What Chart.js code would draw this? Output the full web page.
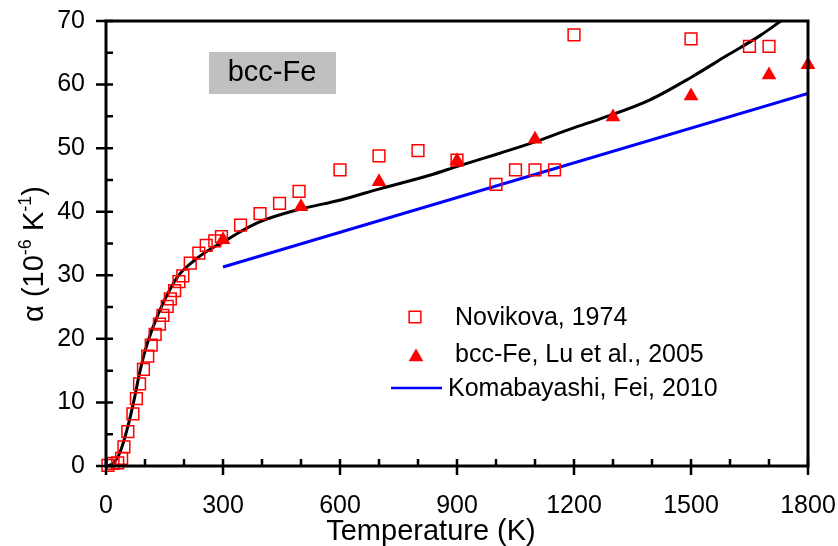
<!DOCTYPE html>
<html>
<head>
<meta charset="utf-8">
<script src="https://cdn.jsdelivr.net/npm/chart.js@4.4.1/dist/chart.umd.min.js"></script>
<style>
html, body { margin: 0; padding: 0; background: #fff; }
</style>
</head>
<body>
<canvas id="chart1" width="838" height="546"></canvas>
<script>
// Novikova, 1974 (open squares)
var novT = [5, 18, 30, 40, 46, 56, 69, 78, 86, 96, 107, 116, 126, 137, 146, 157, 165, 176, 187, 197, 216, 238, 257, 279, 296,
            345, 395, 445, 495, 600, 700, 800, 900, 1000, 1050, 1100, 1150, 1200, 1500, 1650, 1700];
var novA = [0.1, 0.4, 0.5, 1.2, 3.0, 5.4, 8.2, 10.6, 12.9, 15.2, 17.3, 19.0, 20.7, 22.3, 23.7, 25.1, 26.3, 27.6, 29.0, 29.9, 31.9, 33.5, 34.7, 35.4, 36.1,
            37.9, 39.7, 41.3, 43.2, 46.6, 48.8, 49.6, 48.1, 44.3, 46.6, 46.6, 46.6, 67.8, 67.2, 66.0, 66.0];

// bcc-Fe, Lu et al., 2005 (filled triangles)
var luT = [300, 500, 700, 900, 1100, 1300, 1500, 1700, 1800];
var luA = [35.6, 40.8, 44.7, 48.0, 51.4, 54.9, 58.2, 61.5, 63.1];

// calculated curve (black)
var curveT = [5, 20, 35, 56, 72, 86, 103, 124, 150, 184, 228, 270, 300, 340, 394, 497, 599, 702, 839, 899,
              1010, 1096, 1181, 1267, 1395, 1502, 1593, 1677, 1735];
var curveA = [0, 0.5, 2.0, 6.2, 10.4, 14.6, 18.7, 22.4, 26.1, 29.8, 32.4, 34.2, 35.2, 36.7, 38.4, 40.4, 41.8, 43.6, 45.9, 47.1,
              49.2, 50.9, 52.8, 54.6, 57.6, 61.2, 64.6, 67.7, 70.2];

// Komabayashi, Fei, 2010 (blue)
var komT = [300, 1800];
var komA = [31.3, 58.6];

var legendLabels = ['Novikova, 1974', 'bcc-Fe, Lu et al., 2005', 'Komabayashi, Fei, 2010'];
var boxLabel = 'bcc-Fe';

var FONT = '"Liberation Sans", Arial, sans-serif';

function pairs(xs, ys) {
    var out = [];
    for (var i = 0; i < xs.length; i++) {
        out.push({ x: xs[i], y: ys[i] });
    }
    return out;
}

var extras = {
    id: 'extras',
    beforeDatasetsDraw: function(chart) {
        var ctx = chart.ctx;
        var a = chart.chartArea;
        // grey label box
        ctx.save();
        ctx.fillStyle = '#c0c0c0';
        ctx.fillRect(a.left + 103, a.top + 31, 127, 42);
        ctx.fillStyle = '#000';
        ctx.font = '29px ' + FONT;
        ctx.textAlign = 'center';
        ctx.textBaseline = 'middle';
        ctx.fillText(boxLabel, a.left + 166, a.top + 52);
        ctx.restore();
    },
    afterDraw: function(chart) {
        var ctx = chart.ctx;
        var a = chart.chartArea;
        var xs = chart.scales.x, ys = chart.scales.y;
        ctx.save();
        ctx.strokeStyle = '#000';
        ctx.lineWidth = 3;
        ctx.strokeRect(a.left, a.top, a.right - a.left, a.bottom - a.top);

        // major ticks cross the axis, minor ticks point inward
        ctx.lineWidth = 2.5;
        ctx.beginPath();
        for (var t = 0; t <= 1800; t += 100) {
            var px = xs.getPixelForValue(t);
            var major = t % 300 === 0;
            ctx.moveTo(px, a.bottom + (major ? 9 : 0));
            ctx.lineTo(px, a.bottom - 7);
        }
        for (var v = 0; v <= 70; v += 5) {
            var py = ys.getPixelForValue(v);
            var maj = v % 10 === 0;
            ctx.moveTo(a.left - (maj ? 10 : 0), py);
            ctx.lineTo(a.left + 7, py);
        }
        ctx.stroke();

        // axis titles
        ctx.fillStyle = '#000';
        ctx.font = '29px ' + FONT;
        ctx.textAlign = 'center';
        ctx.textBaseline = 'alphabetic';
        ctx.fillText('Temperature (K)', 431, 540);

        var parts = [['\u03b1 (10', 29, 0], ['-6', 18, -12], [' K', 29, 0], ['-1', 18, -12], [')', 29, 0]];
        var total = 0, i;
        for (i = 0; i < parts.length; i++) {
            ctx.font = parts[i][1] + 'px ' + FONT;
            total += ctx.measureText(parts[i][0]).width;
        }
        ctx.translate(43, 254);
        ctx.rotate(-Math.PI / 2);
        ctx.textAlign = 'left';
        var cx = -total / 2;
        for (i = 0; i < parts.length; i++) {
            ctx.font = parts[i][1] + 'px ' + FONT;
            ctx.fillText(parts[i][0], cx, parts[i][2]);
            cx += ctx.measureText(parts[i][0]).width;
        }
        ctx.restore();

        // legend
        ctx.save();
        ctx.font = '25px ' + FONT;
        ctx.textAlign = 'left';
        ctx.textBaseline = 'middle';
        var d0 = chart.data.datasets[1], d1 = chart.data.datasets[0], d2 = chart.data.datasets[3];
        ctx.fillStyle = 'rgba(0,0,0,0)';
        ctx.strokeStyle = d0.borderColor;
        ctx.lineWidth = d0.borderWidth;
        Chart.helpers.drawPoint(ctx, {
            pointStyle: 'rect', radius: d0.pointRadius, borderWidth: d0.borderWidth
        }, 415, 317);
        ctx.fillStyle = '#000';
        ctx.fillText(legendLabels[0], 455, 318);

        ctx.fillStyle = d1.backgroundColor;
        Chart.helpers.drawPoint(ctx, { pointStyle: 'triangle', radius: d1.pointRadius, borderWidth: 0 }, 416, 357);
        ctx.fillStyle = '#000';
        ctx.fillText(legendLabels[1], 455, 355);

        ctx.strokeStyle = d2.borderColor;
        ctx.lineWidth = 2.5;
        ctx.beginPath();
        ctx.moveTo(391, 388);
        ctx.lineTo(442, 388);
        ctx.stroke();
        ctx.fillText(legendLabels[2], 448, 389);
        ctx.restore();
    }
};

var ctx1 = document.getElementById('chart1').getContext('2d');
var chart1 = new Chart(ctx1, {
    type: 'scatter',
    data: {
        datasets: [{
            label: legendLabels[1],
            data: pairs(luT, luA),
            pointStyle: 'triangle',
            pointRadius: 8.5,
            backgroundColor: '#ff0000',
            borderColor: '#ff0000',
            borderWidth: 0,
            clip: false,
            order: 0
        }, {
            label: legendLabels[0],
            data: pairs(novT, novA),
            pointStyle: 'rect',
            pointRadius: 8.3,
            backgroundColor: 'rgba(0,0,0,0)',
            borderColor: '#ff0000',
            borderWidth: 1.5,
            clip: false,
            order: 1
        }, {
            label: 'calc',
            data: pairs(curveT, curveA),
            showLine: true,
            pointRadius: 0,
            borderColor: '#000000',
            borderWidth: 3,
            cubicInterpolationMode: 'monotone',
            order: 2
        }, {
            label: legendLabels[2],
            data: pairs(komT, komA),
            showLine: true,
            pointRadius: 0,
            borderColor: '#0000ff',
            borderWidth: 3,
            order: 3
        }]
    },
    options: {
        responsive: false,
        animation: false,
        devicePixelRatio: 1,
        layout: { padding: { left: 0, right: 30, top: 21, bottom: 0 } },
        plugins: {
            legend: { display: false },
            tooltip: { enabled: false }
        },
        scales: {
            x: {
                type: 'linear',
                min: 0,
                max: 1800,
                grid: { display: false, drawTicks: false },
                border: { display: false },
                ticks: {
                    stepSize: 300, color: '#000', font: { size: 25, family: FONT }, padding: 25, maxRotation: 0,
                    callback: function(v) { return String(v); }
                },
                afterFit: function(scale) {
                    scale.height = 80;
                    scale.paddingLeft = 0;
                    scale.paddingRight = 0;
                }
            },
            y: {
                min: 0,
                max: 70,
                grid: { display: false, drawTicks: false },
                border: { display: false },
                ticks: { stepSize: 10, color: '#000', font: { size: 25, family: FONT }, padding: 21 },
                afterFit: function(scale) {
                    scale.width = 106;
                    scale.paddingTop = 0;
                    scale.paddingBottom = 0;
                }
            }
        }
    },
    plugins: [extras]
});
</script>
</body>
</html>
